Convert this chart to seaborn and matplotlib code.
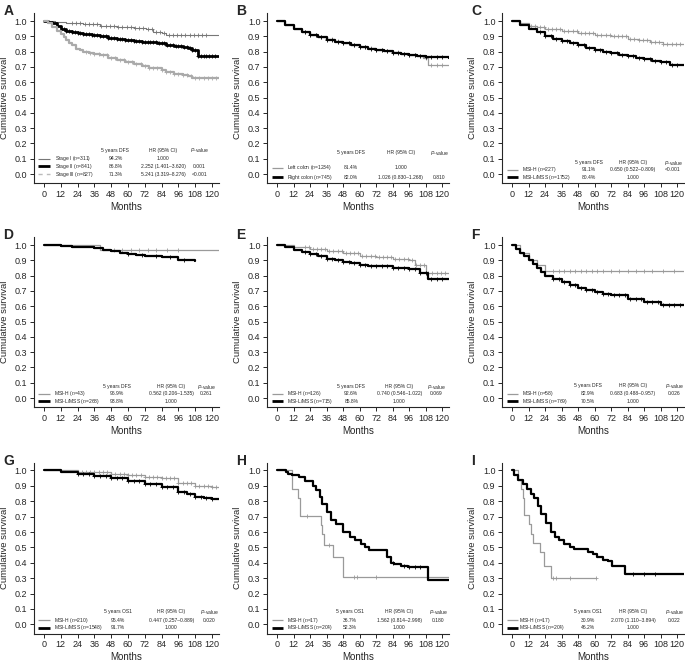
import numpy as np
import pandas as pd
import matplotlib
matplotlib.use('Agg')
import matplotlib.pyplot as plt
import seaborn as sns

sns.set_style('ticks')
plt.rcParams['font.family'] = ['Liberation Sans', 'DejaVu Sans']
plt.rcParams['mathtext.fontset'] = 'custom'
plt.rcParams['mathtext.rm'] = 'Liberation Sans'
plt.rcParams['mathtext.it'] = 'Liberation Sans:italic'

# ---- curve data: (months, survival) knots, step-post ----
# A
a1_t = [0, 8, 16, 28, 40, 52, 64, 73, 78, 84, 87, 125]
a1_s = [1.0, 0.993, 0.987, 0.978, 0.97, 0.963, 0.955, 0.948, 0.93, 0.92, 0.91, 0.91]
a2_t = [0, 3, 6, 9, 12, 16, 20, 24, 28, 34, 40, 46, 52, 58, 64, 70, 75, 81, 87, 93, 99, 103, 106, 110, 125]
a2_s = [1.0, 0.995, 0.985, 0.965, 0.948, 0.935, 0.927, 0.922, 0.917, 0.908, 0.9, 0.892, 0.883, 0.876,
        0.87, 0.865, 0.86, 0.853, 0.846, 0.838, 0.83, 0.822, 0.813, 0.77, 0.77]
a3_t = [0, 3, 6, 9, 12, 14, 16, 18, 20, 23, 26, 28, 32, 36, 40, 46, 52, 58, 64, 70, 75, 80, 84, 87,
        93, 99, 103, 106, 125]
a3_s = [1.0, 0.985, 0.96, 0.935, 0.912, 0.895, 0.875, 0.855, 0.84, 0.82, 0.808, 0.8, 0.79, 0.782,
        0.775, 0.76, 0.745, 0.73, 0.717, 0.706, 0.696, 0.69, 0.683, 0.667, 0.655, 0.646, 0.638, 0.63, 0.625]
# B
b1_t = [0, 6, 12, 18, 24, 30, 36, 42, 48, 54, 60, 66, 72, 78, 84, 90, 96, 102, 106, 110, 125]
b1_s = [1.0, 0.975, 0.95, 0.93, 0.91, 0.895, 0.88, 0.867, 0.855, 0.843, 0.832, 0.822, 0.812, 0.803,
        0.795, 0.787, 0.78, 0.772, 0.76, 0.71, 0.71]
b2_t = [0, 6, 12, 18, 24, 30, 36, 42, 48, 54, 60, 66, 72, 78, 84, 90, 96, 102, 108, 125]
b2_s = [1.0, 0.975, 0.95, 0.928, 0.908, 0.893, 0.878, 0.866, 0.854, 0.842, 0.83, 0.82, 0.81, 0.802,
        0.794, 0.786, 0.779, 0.772, 0.765, 0.76]
# C
c1_t = [0, 6, 12, 18, 24, 36, 48, 60, 72, 84, 92, 100, 110, 125]
c1_s = [1.0, 0.985, 0.97, 0.96, 0.95, 0.935, 0.92, 0.91, 0.9, 0.885, 0.875, 0.86, 0.85, 0.85]
c2_t = [0, 6, 12, 18, 24, 30, 36, 42, 48, 54, 60, 66, 72, 78, 84, 90, 96, 102, 108, 115, 125]
c2_s = [1.0, 0.975, 0.95, 0.925, 0.9, 0.885, 0.87, 0.855, 0.84, 0.825, 0.81, 0.8, 0.79, 0.78,
        0.77, 0.76, 0.75, 0.74, 0.73, 0.715, 0.715]
# D
d1_t = [0, 40, 125]
d1_s = [1.0, 0.97, 0.97]
d2_t = [0, 12, 20, 28, 36, 42, 48, 54, 60, 66, 72, 84, 96, 108]
d2_s = [1.0, 0.995, 0.99, 0.985, 0.98, 0.97, 0.96, 0.95, 0.94, 0.935, 0.93, 0.92, 0.9, 0.895]
# E
e1_t = [0, 12, 24, 36, 48, 60, 72, 84, 96, 100, 108, 125]
e1_s = [1.0, 0.99, 0.975, 0.96, 0.945, 0.93, 0.92, 0.91, 0.9, 0.87, 0.82, 0.82]
e2_t = [0, 6, 12, 18, 24, 30, 36, 42, 48, 54, 60, 66, 72, 84, 96, 104, 110, 125]
e2_s = [1.0, 0.985, 0.97, 0.955, 0.94, 0.925, 0.91, 0.9, 0.89, 0.88, 0.87, 0.865, 0.86, 0.85, 0.84,
        0.82, 0.78, 0.78]
# F
f1_t = [0, 6, 12, 18, 24, 125]
f1_s = [1.0, 0.95, 0.9, 0.87, 0.83, 0.83]
f2_t = [0, 3, 6, 9, 12, 15, 18, 21, 24, 30, 36, 42, 48, 54, 60, 66, 72, 84, 96, 108, 125]
f2_s = [1.0, 0.975, 0.95, 0.925, 0.9, 0.875, 0.85, 0.825, 0.8, 0.78, 0.76, 0.74, 0.72, 0.705, 0.69,
        0.68, 0.67, 0.65, 0.63, 0.61, 0.605]
# G
g1_t = [0, 24, 48, 60, 72, 84, 96, 108, 120, 125]
g1_s = [1.0, 0.99, 0.975, 0.97, 0.96, 0.95, 0.92, 0.9, 0.89, 0.89]
g2_t = [0, 12, 24, 36, 48, 60, 72, 84, 96, 102, 108, 114, 120, 125]
g2_s = [1.0, 0.99, 0.98, 0.965, 0.95, 0.93, 0.91, 0.89, 0.86, 0.845, 0.83, 0.82, 0.815, 0.815]
# H
h1_t = [0, 11, 15, 17, 32, 33, 34, 40.5, 48, 125]
h1_s = [1.0, 0.88, 0.82, 0.705, 0.647, 0.588, 0.515, 0.44, 0.307, 0.307]
h2_t = [0, 6.5, 8, 11, 16, 20, 26, 28, 31, 33, 36, 39, 43, 48, 53, 57, 61, 64, 67, 80, 83, 85, 90,
        95, 110, 125]
h2_s = [1.0, 0.99, 0.98, 0.97, 0.96, 0.93, 0.9, 0.87, 0.83, 0.78, 0.73, 0.68, 0.65, 0.6, 0.565,
        0.55, 0.52, 0.5, 0.48, 0.44, 0.4, 0.39, 0.38, 0.375, 0.285, 0.285]
# I
i1_t = [0, 4, 6.5, 8, 9, 12, 14, 15.5, 20, 23.5, 28, 61]
i1_s = [1.0, 0.94, 0.88, 0.82, 0.71, 0.65, 0.59, 0.53, 0.47, 0.38, 0.3, 0.3]
i2_t = [0, 1.7, 4, 8, 11, 14, 16, 19, 21, 25, 28, 31, 34, 38, 42, 45, 55, 59, 62, 66, 70, 73, 82, 125]
i2_s = [1.0, 0.97, 0.94, 0.91, 0.88, 0.85, 0.82, 0.77, 0.72, 0.66, 0.6, 0.57, 0.545, 0.525, 0.5,
        0.49, 0.47, 0.46, 0.44, 0.42, 0.41, 0.38, 0.33, 0.33]

# censor times
a1_c = list(range(20, 118, 3))
a2_c = list(range(14, 124, 2))
a3_c = list(range(30, 124, 3))
b1_c = list(range(20, 124, 4))
b2_c = list(range(20, 124, 4))
c1_c = list(range(14, 124, 3))
c2_c = list(range(20, 124, 4))
d1_c = [50, 56, 62, 68, 74, 80, 88, 96]
d2_c = [60, 70, 80, 90, 100]
e1_c = list(range(20, 124, 3))
e2_c = list(range(20, 124, 4))
f1_c = [30, 34, 38, 42, 46, 50, 54, 58, 62, 66, 72, 78, 84, 90, 96, 102, 110, 118]
f2_c = list(range(30, 124, 4))
g1_c = list(range(24, 124, 3))
g2_c = list(range(24, 124, 4))
h1_c = [22, 38, 56, 58, 72]
h2_c = [84, 92, 96, 100, 104]
i1_c = [30, 32, 42, 61]
i2_c = [88, 96, 104]

months_ticks = list(range(0, 121, 12))
surv_ticks = [round(0.1 * k, 1) for k in range(11)]

GRAY = '#9a9a9a'
panels = [
    dict(letter='A', metric='5 years DFS',
         curves=[(a1_t, a1_s, a1_c, '#777777', 0.8), (a2_t, a2_s, a2_c, 'black', 2.0),
                 (a3_t, a3_s, a3_c, '#aaaaaa', 1.6)],
         labels=['Stage I ($n$=311)', 'Stage II ($n$=841)', 'Stage III ($n$=827)'],
         dfs=['94.2%', '86.8%', '71.3%'],
         hr=['1.000', '2.252 (1.401\u20133.620)', '5.241 (3.319\u20138.276)'],
         pv=['', '0.001', '<0.001'],
         styles=[('#777777', 0.8, '-'), ('black', 2.0, '-'), ('#bbbbbb', 1.0, (0, (3, 3)))],
         rows=[0.1, 0.05, 0.0], head=0.155, cols=[-4, 4, 8, 51, 85, 111]),
    dict(letter='B', metric='5 years DFS',
         curves=[(b1_t, b1_s, b1_c, GRAY, 0.9), (b2_t, b2_s, b2_c, 'black', 1.6)],
         labels=['Left colon ($n$=1234)', 'Right colon ($n$=745)'],
         dfs=['81.4%', '82.0%'], hr=['1.000', '1.026 (0.830\u20131.268)'], pv=['', '0.810'],
         rows=[0.04, -0.02], head=0.14, cols=[-4, 4, 7, 54, 90, 118]),
    dict(letter='C', metric='5 years DFS',
         curves=[(c1_t, c1_s, c1_c, GRAY, 0.9), (c2_t, c2_s, c2_c, 'black', 1.6)],
         labels=['MSI-H ($n$=227)', 'MSI-L/MSS ($n$=1752)'],
         dfs=['91.1%', '80.4%'], hr=['0.650 (0.522\u20130.809)', '1.000'], pv=['<0.001', ''],
         rows=[0.027, -0.022], head=0.075, cols=[-4, 4, 7, 56, 88, 117]),
    dict(letter='D', metric='5 years DFS',
         curves=[(d1_t, d1_s, d1_c, GRAY, 0.9), (d2_t, d2_s, d2_c, 'black', 1.6)],
         labels=['MSI-H ($n$=43)', 'MSI-L/MSS ($n$=268)'],
         dfs=['96.9%', '93.8%'], hr=['0.562 (0.206\u20131.535)', '1.000'], pv=['0.261', ''],
         rows=[0.027, -0.022], head=0.075, cols=[-4, 4, 7, 52, 91, 116]),
    dict(letter='E', metric='5 years DFS',
         curves=[(e1_t, e1_s, e1_c, GRAY, 0.9), (e2_t, e2_s, e2_c, 'black', 1.6)],
         labels=['MSI-H ($n$=126)', 'MSI-L/MSS ($n$=715)'],
         dfs=['92.6%', '85.8%'], hr=['0.740 (0.546\u20131.022)', '1.000'], pv=['0.069', ''],
         rows=[0.027, -0.022], head=0.075, cols=[-4, 4, 7, 54, 89, 116]),
    dict(letter='F', metric='5 years DFS',
         curves=[(f1_t, f1_s, f1_c, GRAY, 0.9), (f2_t, f2_s, f2_c, 'black', 1.6)],
         labels=['MSI-H ($n$=58)', 'MSI-L/MSS ($n$=769)'],
         dfs=['82.9%', '70.5%'], hr=['0.683 (0.488\u20130.957)', '1.000'], pv=['0.026', ''],
         rows=[0.027, -0.022], head=0.08, cols=[-4, 4, 7, 55, 88, 118]),
    dict(letter='G', metric='5 years OS1',
         curves=[(g1_t, g1_s, g1_c, GRAY, 0.9), (g2_t, g2_s, g2_c, 'black', 1.6)],
         labels=['MSI-H ($n$=210)', 'MSI-L/MSS ($n$=1548)'],
         dfs=['95.4%', '91.7%'], hr=['0.447 (0.257\u20130.889)', '1.000'], pv=['0.020', ''],
         rows=[0.027, -0.022], head=0.08, cols=[-4, 4, 7, 53, 91, 118]),
    dict(letter='H', metric='5 years OS1',
         curves=[(h1_t, h1_s, h1_c, GRAY, 0.9), (h2_t, h2_s, h2_c, 'black', 1.6)],
         labels=['MSI-H ($n$=17)', 'MSI-L/MSS ($n$=204)'],
         dfs=['36.7%', '52.3%'], hr=['1.562 (0.814\u20132.998)', '1.000'], pv=['0.180', ''],
         rows=[0.027, -0.022], head=0.08, cols=[-4, 4, 7, 53, 89, 117]),
    dict(letter='I', metric='5 years OS1',
         curves=[(i1_t, i1_s, i1_c, GRAY, 0.9), (i2_t, i2_s, i2_c, 'black', 1.6)],
         labels=['MSI-H ($n$=17)', 'MSI-L/MSS ($n$=204)'],
         dfs=['30.9%', '46.2%'], hr=['2.070 (1.110\u20133.894)', '1.000'], pv=['0.022', ''],
         rows=[0.027, -0.022], head=0.08, cols=[-4, 4, 5, 55, 88, 118]),
]

W, H = 685, 663
col_px = [(34.2, 184.8), (267.4, 181.5), (502.4, 181.5)]
row_px = [(13.35, 183.2), (237.35, 407.2), (462.8, 633.5)]

fig = plt.figure(figsize=(W / 100, H / 100), dpi=100)

for k, p in enumerate(panels):
    r, c = divmod(k, 3)
    x0, w = col_px[c]
    top, bot = row_px[r]
    ax = fig.add_axes([x0 / W, 1 - bot / H, w / W, (bot - top) / H])

    for t, s, cens, color, lw in p['curves']:
        df = pd.DataFrame({'t': t, 's': s})
        sns.lineplot(data=df, x='t', y='s', ax=ax, color=color, lw=lw,
                     drawstyle='steps-post', estimator=None, sort=False)
        ct = np.array(cens, dtype=float)
        ct = ct[ct <= t[-1]]
        idx = np.searchsorted(np.array(t, dtype=float), ct, side='right') - 1
        cs = np.array(s)[idx]
        ax.plot(ct, cs, ls='none', marker='+', ms=3.2, mew=0.6, color=color)

    styles = p.get('styles', [(GRAY, 0.9, '-'), ('black', 2.0, '-')])
    l0, l1, lab, cd, chr_, cp = p['cols']
    fs = 3.6
    ax.text(cd, p['head'], p['metric'], fontsize=fs, ha='center', va='center')
    ax.text(chr_, p['head'], 'HR (95% CI)', fontsize=fs, ha='center', va='center')
    ax.text(cp, p['head'], '$P$-value', fontsize=fs, ha='center', va='center')
    for j, yy in enumerate(p['rows']):
        col, lw, ls = styles[j]
        ax.plot([l0, l1], [yy, yy], color=col, lw=lw, ls=ls, solid_capstyle='butt')
        ax.text(lab, yy, p['labels'][j], fontsize=fs, ha='left', va='center')
        ax.text(cd, yy, p['dfs'][j], fontsize=fs, ha='center', va='center')
        ax.text(chr_, yy, p['hr'][j], fontsize=fs, ha='center', va='center')
        ax.text(cp, yy, p['pv'][j], fontsize=fs, ha='center', va='center')

    ax.set_xlim(-7, 125)
    ax.set_ylim(-0.06, 1.05)
    ax.set_xticks(months_ticks)
    ax.set_yticks(surv_ticks)
    ax.set_yticklabels([f'{v:.1f}' for v in surv_ticks])
    ax.tick_params(labelsize=6.5, length=3, width=0.7, pad=2)
    ax.set_xlabel('Months', fontsize=7.0, labelpad=2)
    ax.set_ylabel('Cumulative survival', fontsize=6.8, labelpad=4)
    for sp in ['left', 'bottom']:
        ax.spines[sp].set_linewidth(0.8)
    sns.despine(ax=ax)
    fig.text((x0 - 31) / W, 1 - (top - 9) / H, p['letter'], fontsize=10, fontweight='bold',
             ha='left', va='top')

fig.savefig('out.png', dpi=100)
